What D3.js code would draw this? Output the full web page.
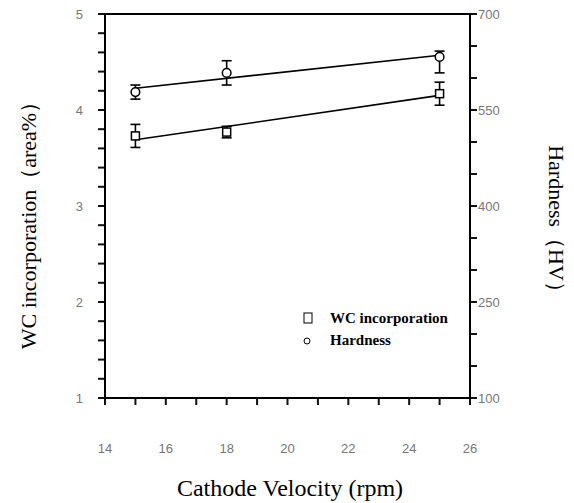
<!DOCTYPE html>
<html>
<head>
<meta charset="utf-8">
<script src="https://cdn.jsdelivr.net/npm/d3@7"></script>
<style>
  html, body { margin: 0; padding: 0; background: #fff; }
  svg { display: block; }
</style>
</head>
<body>
<svg id="chart" width="574" height="503"></svg>
<script>
// Cathode velocity (rpm)
const velocity = [15, 18, 25];
// WC incorporation (area%) with its error
const wcValues = [3.73, 3.77, 4.17];
const wcErr = [0.12, 0.06, 0.12];
// Hardness (HV) with lower / upper error
const hvValues = [578, 608, 633];
const hvErrLow = [11, 19, 25];
const hvErrHigh = [11, 19, 9];

const xTicks = [14, 16, 18, 20, 22, 24, 26];
const leftTicks = [1, 2, 3, 4, 5];
const rightTicks = [100, 250, 400, 550, 700];

const svg = d3.select("#chart");
const plotL = 105, plotR = 470, plotT = 14, plotB = 398;
const tickLen = 7;

const x = d3.scaleLinear().domain([14, 26]).range([plotL, plotR]);
const yL = d3.scaleLinear().domain([1, 5]).range([plotB, plotT]);
const yR = d3.scaleLinear().domain([100, 700]).range([plotB, plotT]);

const tickFont = "Liberation Sans, Arial, sans-serif";
const serif = "Liberation Serif, Times New Roman, serif";

// tick marks as small filled bars: every 1 rpm, every 0.25 area%, every 50 HV
const xMinor = x.ticks(12);
const yLMinor = yL.ticks(16);
const yRMinor = yR.ticks(12);

const marks = svg.append("g").attr("fill", "#111");
marks.selectAll(null).data(xMinor).join("rect")
  .attr("x", d => x(d) - 1).attr("y", plotB)
  .attr("width", 2).attr("height", tickLen);
marks.selectAll(null).data(yLMinor).join("rect")
  .attr("x", plotL - tickLen).attr("y", d => yL(d) - 1)
  .attr("width", tickLen).attr("height", 2);
marks.selectAll(null).data(yRMinor).join("rect")
  .attr("x", plotR).attr("y", d => yR(d) - 1)
  .attr("width", tickLen).attr("height", 2);

// tick labels
svg.append("g").selectAll("text").data(xTicks).join("text")
  .attr("x", d => x(d)).attr("y", 453)
  .attr("text-anchor", "middle")
  .attr("font-family", tickFont).attr("font-size", 13).attr("fill", "#777")
  .text(d => d);
svg.append("g").selectAll("text").data(leftTicks).join("text")
  .attr("x", 83).attr("y", d => yL(d) + 5)
  .attr("text-anchor", "end")
  .attr("font-family", tickFont).attr("font-size", 13).attr("fill", "#777")
  .text(d => d);
svg.append("g").selectAll("text").data(rightTicks).join("text")
  .attr("x", 478).attr("y", d => yR(d) + 5)
  .attr("text-anchor", "start")
  .attr("font-family", tickFont).attr("font-size", 13).attr("fill", "#777")
  .text(d => d);

// frame
svg.append("rect")
  .attr("x", plotL).attr("y", plotT)
  .attr("width", plotR - plotL).attr("height", plotB - plotT)
  .attr("fill", "none").attr("stroke", "#000").attr("stroke-width", 2);

// least-squares fit through a series
function fit(xs, ys) {
  const mx = d3.mean(xs), my = d3.mean(ys);
  let sxy = 0, sxx = 0;
  xs.forEach((v, i) => { sxy += (v - mx) * (ys[i] - my); sxx += (v - mx) * (v - mx); });
  const b = sxy / sxx, a = my - b * mx;
  return v => a + b * v;
}

const x0 = d3.min(velocity), x1 = d3.max(velocity);
const fWC = fit(velocity, wcValues);
const fHV = fit(velocity, hvValues);
const line = d3.line();

svg.append("path")
  .attr("d", line([[x(x0), yL(fWC(x0))], [x(x1), yL(fWC(x1))]]))
  .attr("stroke", "#000").attr("stroke-width", 1.6).attr("fill", "none");
svg.append("path")
  .attr("d", line([[x(x0), yR(fHV(x0))], [x(x1), yR(fHV(x1))]]))
  .attr("stroke", "#000").attr("stroke-width", 1.6).attr("fill", "none");

// error bars
function errorBar(g, cx, yTop, yBot) {
  g.append("line").attr("x1", cx).attr("x2", cx).attr("y1", yTop).attr("y2", yBot)
    .attr("stroke", "#000").attr("stroke-width", 1.6);
  [yTop, yBot].forEach(yy => g.append("line")
    .attr("x1", cx - 5).attr("x2", cx + 5).attr("y1", yy).attr("y2", yy)
    .attr("stroke", "#000").attr("stroke-width", 1.6));
}

const gWC = svg.append("g");
velocity.forEach((v, i) => {
  errorBar(gWC, x(v), yL(wcValues[i] + wcErr[i]), yL(wcValues[i] - wcErr[i]));
});
gWC.selectAll("rect").data(velocity).join("rect")
  .attr("x", d => x(d) - 4).attr("y", (d, i) => yL(wcValues[i]) - 4)
  .attr("width", 8).attr("height", 8)
  .attr("fill", "#fff").attr("stroke", "#000").attr("stroke-width", 1.5);

const gHV = svg.append("g");
velocity.forEach((v, i) => {
  errorBar(gHV, x(v), yR(hvValues[i] + hvErrHigh[i]), yR(hvValues[i] - hvErrLow[i]));
});
gHV.selectAll("circle").data(velocity).join("circle")
  .attr("cx", d => x(d)).attr("cy", (d, i) => yR(hvValues[i]))
  .attr("r", 4.3)
  .attr("fill", "#fff").attr("stroke", "#000").attr("stroke-width", 1.5);

// legend
const lg = svg.append("g");
lg.append("rect").attr("x", 304).attr("y", 313).attr("width", 8).attr("height", 10)
  .attr("fill", "#fff").attr("stroke", "#000").attr("stroke-width", 1);
lg.append("circle").attr("cx", 307).attr("cy", 341).attr("r", 3)
  .attr("fill", "#fff").attr("stroke", "#000").attr("stroke-width", 1);
lg.append("text").attr("x", 330).attr("y", 323)
  .attr("font-family", serif).attr("font-size", 15).attr("font-weight", "bold")
  .text("WC incorporation");
lg.append("text").attr("x", 330).attr("y", 345)
  .attr("font-family", serif).attr("font-size", 15).attr("font-weight", "bold")
  .text("Hardness");

// axis titles
svg.append("text").attr("x", 290).attr("y", 496)
  .attr("text-anchor", "middle")
  .attr("font-family", serif).attr("font-size", 24)
  .text("Cathode Velocity (rpm)");
svg.append("text")
  .attr("transform", "translate(36,220) rotate(-90)")
  .attr("text-anchor", "middle")
  .attr("font-family", serif).attr("font-size", 22)
  .text("WC incorporation（area%）");
svg.append("text")
  .attr("transform", "translate(549,224) rotate(90)")
  .attr("text-anchor", "middle")
  .attr("font-family", serif).attr("font-size", 22)
  .text("Hardness（HV）");
</script>
</body>
</html>
